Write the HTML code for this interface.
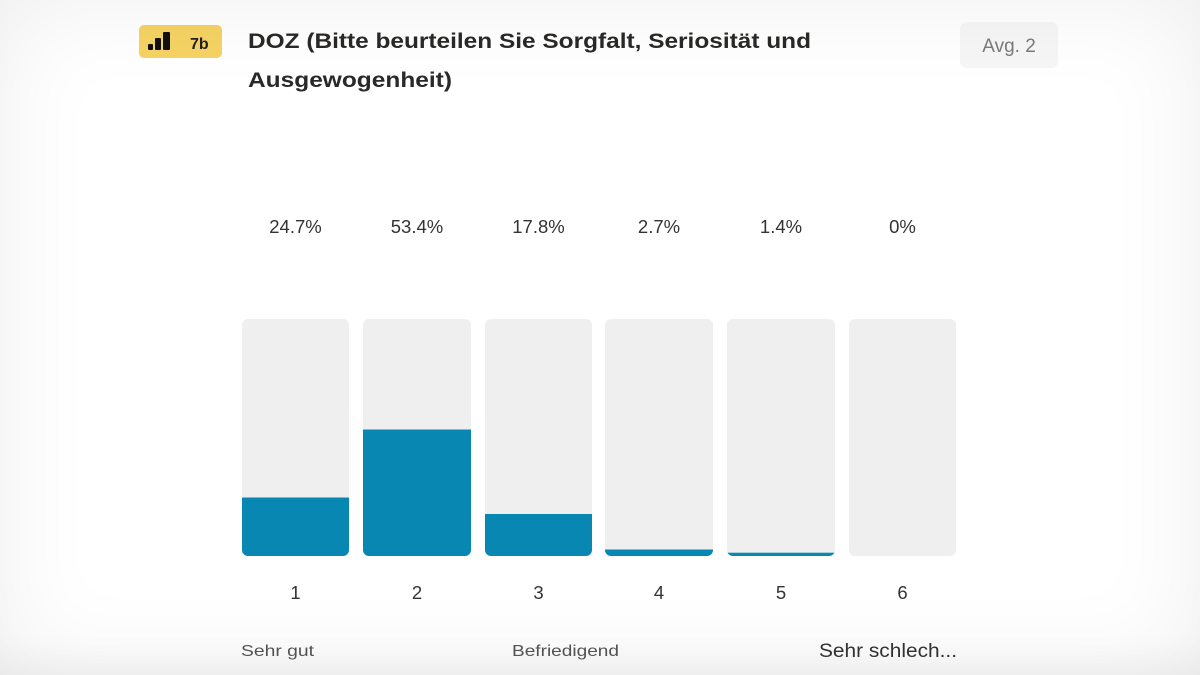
<!DOCTYPE html>
<html>
<head>
<meta charset="utf-8">
<style>
  html,body{margin:0;padding:0;}
  body{width:1200px;height:675px;overflow:hidden;background:#ffffff;position:relative;font-family:"Liberation Sans",sans-serif;}
  .vig{position:absolute;left:0;top:0;width:1200px;height:675px;box-shadow:inset 0 0 100px rgba(0,0,0,0.065), inset 0 -30px 40px -20px rgba(0,0,0,0.05);pointer-events:none;}
</style>
</head>
<body>
<svg width="1200" height="675" viewBox="0 0 1200 675" xmlns="http://www.w3.org/2000/svg" style="position:absolute;left:0;top:0">
  <!-- badge -->
  <rect x="139" y="25" width="83" height="33" rx="5" fill="#f5d363"/>
  <rect x="148" y="44" width="5" height="6" rx="1" fill="#111"/>
  <rect x="155" y="38" width="6" height="12" rx="1" fill="#111"/>
  <rect x="163" y="32" width="7" height="18" rx="1" fill="#111"/>
  <text x="190" y="49" font-family="Liberation Sans, sans-serif" font-size="16" font-weight="bold" fill="#222">7b</text>

  <!-- title -->
  <text x="248" y="48" font-family="Liberation Sans, sans-serif" font-size="21" font-weight="bold" fill="#2a2928" textLength="563" lengthAdjust="spacingAndGlyphs">DOZ (Bitte beurteilen Sie Sorgfalt, Seriosität und</text>
  <text x="248" y="87" font-family="Liberation Sans, sans-serif" font-size="21" font-weight="bold" fill="#2a2928" textLength="204" lengthAdjust="spacingAndGlyphs">Ausgewogenheit)</text>

  <!-- avg -->
  <rect x="960" y="22" width="98" height="46" rx="7" fill="#f6f6f6"/>
  <text x="1009" y="52" text-anchor="middle" font-family="Liberation Sans, sans-serif" font-size="19" fill="#7a7a7a">Avg. 2</text>

  <!-- percentages -->
  <g font-family="Liberation Sans, sans-serif" font-size="18.5" fill="#333" text-anchor="middle">
    <text x="295.5" y="233">24.7%</text>
    <text x="417" y="233">53.4%</text>
    <text x="538.5" y="233">17.8%</text>
    <text x="659" y="233">2.7%</text>
    <text x="781" y="233">1.4%</text>
    <text x="902.5" y="233">0%</text>
  </g>

  <defs>
    <clipPath id="c1"><rect x="242" y="319" width="107" height="237" rx="6"/></clipPath>
    <clipPath id="c2"><rect x="363" y="319" width="108" height="237" rx="6"/></clipPath>
    <clipPath id="c3"><rect x="485" y="319" width="107" height="237" rx="6"/></clipPath>
    <clipPath id="c4"><rect x="605" y="319" width="108" height="237" rx="6"/></clipPath>
    <clipPath id="c5"><rect x="727" y="319" width="108" height="237" rx="6"/></clipPath>
    <clipPath id="c6"><rect x="849" y="319" width="107" height="237" rx="6"/></clipPath>
  </defs>

  <!-- bars -->
  <g clip-path="url(#c1)"><rect x="242" y="319" width="107" height="237" fill="#efefef"/><rect x="242" y="497.5" width="107" height="58.5" fill="#0787b1"/></g>
  <g clip-path="url(#c2)"><rect x="363" y="319" width="108" height="237" fill="#efefef"/><rect x="363" y="429.5" width="108" height="126.5" fill="#0787b1"/></g>
  <g clip-path="url(#c3)"><rect x="485" y="319" width="107" height="237" fill="#efefef"/><rect x="485" y="514" width="107" height="42" fill="#0787b1"/></g>
  <g clip-path="url(#c4)"><rect x="605" y="319" width="108" height="237" fill="#efefef"/><rect x="605" y="549.5" width="108" height="6.5" fill="#0787b1"/></g>
  <g clip-path="url(#c5)"><rect x="727" y="319" width="108" height="237" fill="#efefef"/><rect x="727" y="552.7" width="108" height="3.3" fill="#0787b1"/></g>
  <g clip-path="url(#c6)"><rect x="849" y="319" width="107" height="237" fill="#efefef"/></g>

  <!-- category numbers -->
  <g font-family="Liberation Sans, sans-serif" font-size="18.5" fill="#333" text-anchor="middle">
    <text x="295.5" y="599">1</text>
    <text x="417" y="599">2</text>
    <text x="538.5" y="599">3</text>
    <text x="659" y="599">4</text>
    <text x="781" y="599">5</text>
    <text x="902.5" y="599">6</text>
  </g>

  <!-- scale labels -->
  <text x="241" y="656" font-family="Liberation Sans, sans-serif" font-size="16" fill="#555" textLength="73" lengthAdjust="spacingAndGlyphs">Sehr gut</text>
  <text x="512" y="656" font-family="Liberation Sans, sans-serif" font-size="16" fill="#555" textLength="107" lengthAdjust="spacingAndGlyphs">Befriedigend</text>
  <text x="819" y="657" font-family="Liberation Sans, sans-serif" font-size="19" fill="#333" textLength="138" lengthAdjust="spacingAndGlyphs">Sehr schlech...</text>
</svg>
<div class="vig"></div>
</body>
</html>
